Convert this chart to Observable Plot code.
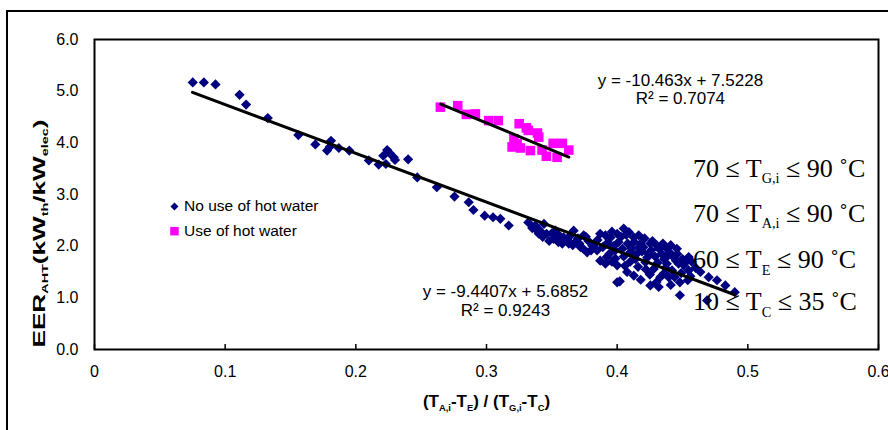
<!DOCTYPE html>
<html><head><meta charset="utf-8">
<script src="https://cdn.jsdelivr.net/npm/d3@7"></script>
<script src="https://cdn.jsdelivr.net/npm/@observablehq/plot@0.6"></script>
<style>
html,body{margin:0;padding:0;background:#fff;overflow:hidden;width:888px;height:430px;}
#wrap{position:relative;width:888px;height:430px;}
#border{position:absolute;left:6px;top:10px;width:910px;height:450px;border:2px solid #000;box-sizing:border-box;}
#chart{position:absolute;left:0;top:0;}
</style></head><body>
<div id="wrap"><div id="border"></div><div id="chart"></div></div>
<script>
// ---- data ----
const xTicks = [0, 0.1, 0.2, 0.3, 0.4, 0.5, 0.6];
const yTicks = [0, 1, 2, 3, 4, 5, 6];
const seriesNames = ["No use of hot water", "Use of hot water"];
const seriesColors = ["#000080", "#FF00FF"];

const noHotWater = [
  [0.0752,5.17],[0.0837,5.17],[0.0926,5.13],[0.111,4.93],[0.116,4.74],[0.1326,4.48],[0.156,4.15],
  [0.169,3.97],[0.178,3.85],[0.181,4.04],[0.180,3.92],[0.187,3.90],[0.195,3.85],[0.210,3.66],
  [0.2175,3.58],[0.221,3.75],[0.224,3.86],[0.226,3.80],[0.229,3.72],[0.230,3.67],[0.223,3.59],
  [0.240,3.68],[0.247,3.33],[0.262,3.14],[0.2755,2.96],[0.2864,2.85],[0.290,2.70],[0.2986,2.59],
  [0.305,2.56],[0.3106,2.53],[0.317,2.40],[0.332,2.46],[0.3374,2.40],[0.341,2.30],[0.344,2.43],
  [0.340,2.24],[0.346,2.24],[0.3514,2.14],[0.3527,2.30],[0.359,2.17],[0.363,2.05],[0.3667,2.30],
  [0.368,2.08],[0.372,1.98],[0.3744,2.21],[0.377,1.88],[0.381,2.01],[0.387,2.24],[0.3846,1.92],
  [0.392,2.05],[0.395,2.17],[0.391,1.66],[0.3986,1.76],[0.400,1.30],[0.400,2.24],[0.391,2.21],
  [0.405,2.34],[0.409,2.27],[0.4127,2.17],[0.4165,2.21],[0.401,2.08],[0.3986,1.92],[0.3935,2.05],
  [0.392,1.79],[0.387,1.72],[0.400,1.63],[0.402,1.32],[0.4076,1.50],[0.4127,1.43],[0.420,1.98],
  [0.4254,2.05],[0.424,1.85],[0.4305,2.01],[0.434,1.85],[0.4216,1.69],[0.428,1.56],[0.433,1.40],
  [0.4254,1.24],[0.4318,1.21],[0.438,1.66],[0.442,1.53],[0.443,1.79],[0.447,1.66],[0.451,1.63],
  [0.4547,1.79],[0.4547,1.53],[0.454,1.34],[0.448,1.30],[0.448,1.05],[0.4394,1.40],[0.4637,1.50],
  [0.470,1.40],[0.4764,1.34],[0.4828,1.24],[0.490,1.11],[0.4688,0.95],[0.4457,1.95],[0.438,1.95],
  [0.335,2.35],[0.348,2.10],[0.355,2.08],[0.362,2.12],[0.370,2.15],[0.378,2.10],[0.383,2.05],
  [0.396,2.28],[0.403,2.18],[0.408,2.05],[0.411,1.95],[0.415,1.85],[0.418,2.05],[0.421,2.15],
  [0.426,1.92],[0.429,1.80],[0.432,1.95],[0.436,1.75],[0.440,1.88],[0.445,1.72],[0.450,1.75],
  [0.405,1.80],[0.410,1.70],[0.416,1.60],[0.394,1.85],[0.389,1.98],[0.356,2.20],[0.366,2.02],
  [0.374,1.95],[0.380,1.92],[0.418,1.35],[0.436,1.48],[0.460,1.58],[0.444,1.40],
  [0.338,2.32],[0.343,2.18],[0.350,2.25],[0.358,2.05],[0.364,2.20],[0.371,2.05],[0.376,2.18],
  [0.385,2.12],[0.397,2.00],[0.404,1.95],[0.407,2.22],[0.413,2.08],[0.419,1.90],[0.423,1.78],
  [0.427,2.10],[0.431,1.68],[0.435,2.05],[0.439,1.82],[0.441,2.02],[0.446,1.85],[0.452,1.68],
  [0.457,1.70],[0.425,1.45],[0.430,1.30],[0.422,1.55],[0.414,1.75],[0.406,1.62],[0.396,1.70],
  [0.410,1.88],[0.417,1.98],[0.437,1.58],[0.441,1.25],[0.449,1.48],[0.456,1.42]
];
const hotWater = [
  [0.2647,4.69],[0.278,4.72],[0.2846,4.55],[0.2915,4.56],[0.3017,4.43],[0.309,4.43],[0.325,4.37],
  [0.3305,4.29],[0.332,4.24],[0.339,4.19],[0.340,4.11],[0.321,4.08],[0.3234,3.98],[0.3196,3.92],
  [0.326,3.90],[0.3336,3.85],[0.3425,3.86],[0.3458,3.74],[0.351,3.99],[0.358,3.99],[0.354,3.72],
  [0.363,3.86]
];
// fitted trendlines as printed on the chart
const fitSlopes = [-9.4407, -10.463];
const fitIntercepts = [5.6852, 7.5228];
const fitXRanges = [[0.075, 0.49], [0.265, 0.363]];
const fitLabels = ["y = -9.4407x + 5.6852\nR² = 0.9243", "y = -10.463x + 7.5228\nR² = 0.7074"];
const conditions = ["70 ≤ T_{G,i} ≤ 90 ˚C", "70 ≤ T_{A,i} ≤ 90 ˚C", "60 ≤ T_{E} ≤ 90 ˚C", "10 ≤ T_{C} ≤ 35 ˚C"];
const xLabel = "(T_{A,i}-T_{E}) / (T_{G,i}-T_{C})";
const yLabel = "EER_{AHT}(kW_{th}/kW_{elec})";

// ---- build ----
const fitLines = fitSlopes.map((m, i) => fitXRanges[i].map(x => ({x, y: m * x + fitIntercepts[i], s: i})));
const fmt1 = d3.format(".1f");

const plot = Plot.plot({
  width: 888, height: 430,
  marginLeft: 94, marginRight: 10, marginTop: 39, marginBottom: 81,
  style: {fontFamily: "'Liberation Sans', Arial, sans-serif", fontSize: "16px", background: "transparent", overflow: "visible", color: "#000"},
  x: {domain: [0, 0.6]},
  y: {domain: [0, 6]},
  marks: [
    Plot.axisX({ticks: xTicks, tickSize: 0, tickPadding: 16, label: null, tickFormat: d => d === 0 ? "0" : fmt1(d)}),
    Plot.axisX({ticks: xTicks, tickSize: -5, tickFormat: () => "", label: null, strokeWidth: 1.5}),
    Plot.axisY({ticks: yTicks, tickSize: 0, tickPadding: 16, label: null, tickFormat: fmt1}),
    Plot.dot(noHotWater, {x: d => d[0], y: d => d[1], symbol: "diamond2", r: 4.6, fill: seriesColors[0], stroke: "none"}),
    Plot.dot(hotWater, {x: d => d[0], y: d => d[1], symbol: "square", r: 5.4, fill: seriesColors[1], stroke: "none"}),
    ...fitLines.map(l => Plot.line(l, {x: "x", y: "y", stroke: "#000", strokeWidth: 3})),
    Plot.text([fitLabels[0]], {x: [0.3145], y: [0.658], text: d => d, lineAnchor: "bottom", lineHeight: 1.1, fontSize: 17, textAnchor: "middle", fill: "#000"}),
    Plot.text([fitLabels[1]], {x: [0.4484], y: [4.742], text: d => d, lineAnchor: "bottom", lineHeight: 1.1, fontSize: 17, textAnchor: "middle", fill: "#000"}),
    // legend
    Plot.dot([seriesNames[0]], {x: [0.0612], y: [2.77], symbol: "diamond2", r: 3.6, fill: seriesColors[0], stroke: "none"}),
    Plot.dot([seriesNames[1]], {x: [0.0612], y: [2.29], symbol: "square", r: 4.8, fill: seriesColors[1], stroke: "none"}),
    Plot.text(seriesNames, {x: [0.0685, 0.0685], y: [2.77, 2.29], text: d => d, textAnchor: "start", lineAnchor: "middle", fontSize: 15.5, fill: "#000"}),
    // operating conditions
    Plot.text(conditions, {x: [0.458, 0.458, 0.458, 0.458], y: [3.335, 2.464, 1.568, 0.755], text: d => d, textAnchor: "start", lineAnchor: "bottom", fontSize: 26, fontFamily: "'Liberation Serif', 'Times New Roman', serif", fill: "#000"}),
    // axis titles
    Plot.text([xLabel], {frameAnchor: "bottom", dy: 57, text: d => d, lineAnchor: "bottom", fontWeight: "bold", fontSize: 17, fill: "#000"}),
    Plot.text([yLabel], {frameAnchor: "left", dx: -55, dy: 39, rotate: -90, text: d => d, lineAnchor: "middle", textAnchor: "middle", fontWeight: "bold", fontSize: 16, fill: "#000"}),
    Plot.frame({stroke: "#000", strokeWidth: 2})
  ]
});
document.getElementById("chart").appendChild(plot);

// subscripts
const NS = "http://www.w3.org/2000/svg";
plot.querySelectorAll("text").forEach(t => {
  const s = t.textContent;
  if (!s.includes("_{")) return;
  const cs = getComputedStyle(t);
  const fs = parseFloat(cs.fontSize);
  const serif = /Serif/i.test(cs.fontFamily);
  const ratio = serif ? 0.55 : 0.78;
  const shift = serif ? 0.24 * fs : 0.28 * fs;
  const parts = s.split(/(_\{[^}]*\})/);
  t.textContent = "";
  let shifted = 0;
  parts.forEach(p => {
    if (!p) return;
    const ts = document.createElementNS(NS, "tspan");
    if (p.startsWith("_{")) {
      ts.textContent = p.slice(2, -1);
      ts.setAttribute("font-size", fs * ratio);
      ts.setAttribute("dy", shift - shifted);
      shifted = shift;
    } else {
      ts.textContent = p;
      if (shifted) { ts.setAttribute("dy", -shifted); shifted = 0; }
    }
    t.appendChild(ts);
  });
  if (s.startsWith("EER")) {
    t.setAttribute("textLength", 228);
    t.setAttribute("lengthAdjust", "spacingAndGlyphs");
  }
});
</script>
</body></html>
